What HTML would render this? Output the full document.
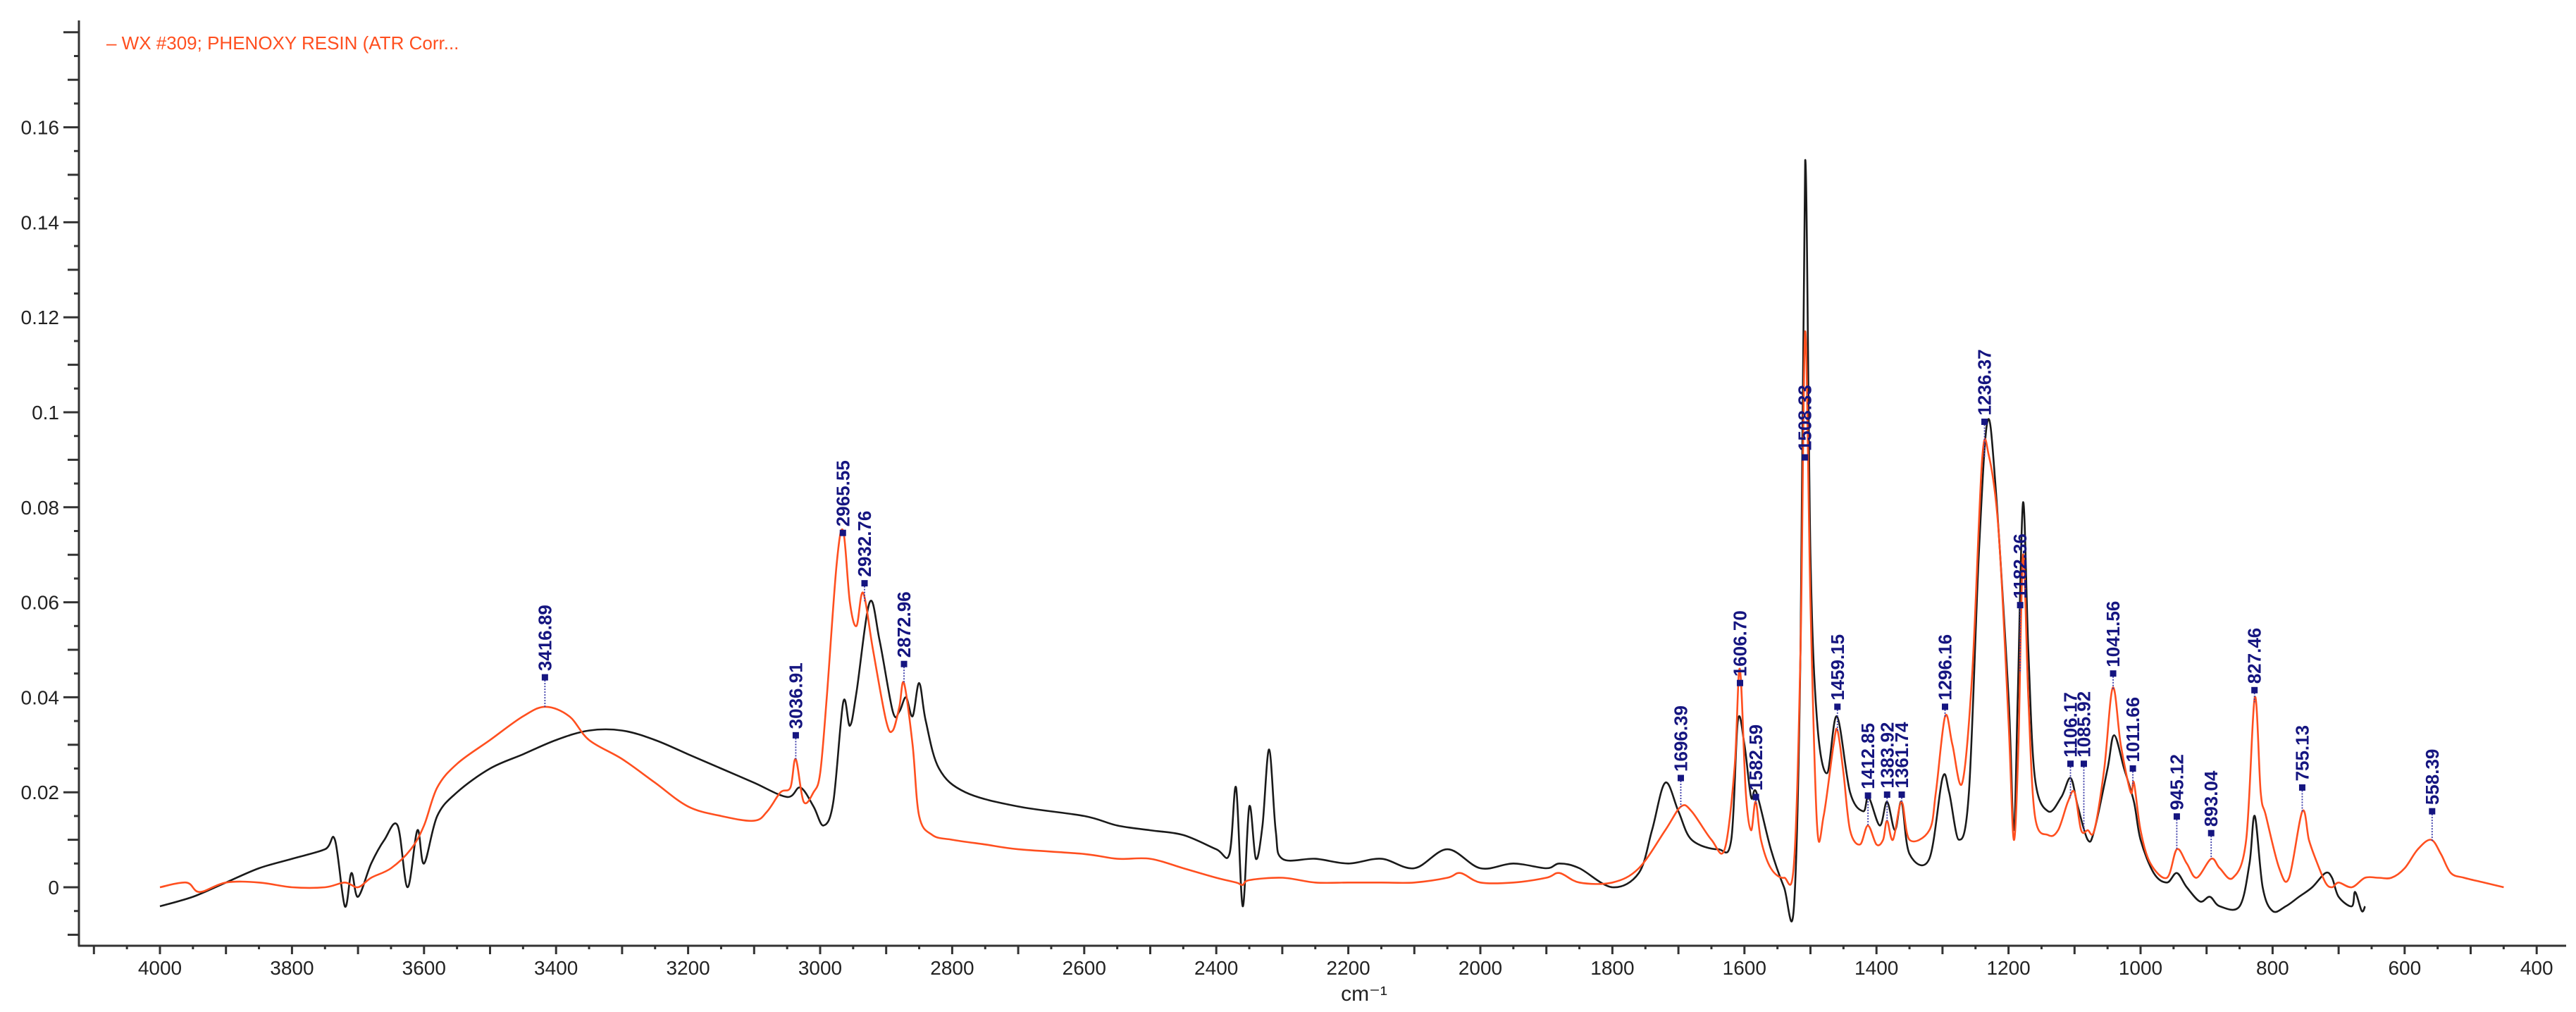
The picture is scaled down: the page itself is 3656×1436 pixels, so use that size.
<!DOCTYPE html>
<html><head><meta charset="utf-8"><style>
html,body{margin:0;padding:0;background:#fff;}
svg{display:block;}
text{font-family:"Liberation Sans",sans-serif;}
</style></head><body>
<svg id="chart" width="3656" height="1436" viewBox="0 0 3656 1436" xmlns="http://www.w3.org/2000/svg">
<g id="axes"></g>
<g id="series"></g>
<g id="labels"></g>
<text x="151" y="70" font-size="26" fill="#ff4f1f">– WX #309; PHENOXY RESIN (ATR Corr...</text>
<text x="1936" y="1420" font-size="30" fill="#222" text-anchor="middle">cm⁻¹</text>
</svg>
<script>
const blackWn = [4000,3950,3900,3850,3800,3750,3735,3720,3710,3700,3680,3660,3640,3625,3610,3600,3580,3550,3500,3450,3400,3350,3300,3250,3200,3150,3100,3050,3030,3010,2995,2980,2965,2955,2945,2925,2910,2890,2880,2870,2860,2850,2840,2820,2780,2700,2600,2550,2500,2450,2400,2380,2370,2360,2350,2340,2330,2320,2310,2300,2250,2200,2150,2100,2050,2000,1950,1900,1880,1850,1800,1760,1740,1720,1700,1680,1640,1620,1610,1600,1590,1582,1560,1540,1525,1515,1508,1500,1490,1475,1460,1440,1420,1412,1395,1384,1372,1362,1350,1320,1300,1290,1275,1260,1245,1232,1220,1200,1192,1186,1178,1170,1160,1140,1120,1106,1095,1080,1070,1050,1040,1025,1010,1000,980,960,945,930,910,895,880,850,835,827,815,800,780,760,740,720,710,700,680,675,665,660];
const blackVal = [-0.004,-0.002,0.001,0.004,0.006,0.008,0.010,-0.004,0.003,-0.002,0.005,0.010,0.013,0.0,0.012,0.005,0.015,0.020,0.025,0.028,0.031,0.033,0.033,0.031,0.028,0.025,0.022,0.019,0.021,0.017,0.013,0.018,0.039,0.034,0.041,0.060,0.052,0.037,0.037,0.040,0.036,0.043,0.035,0.025,0.020,0.017,0.015,0.013,0.012,0.011,0.008,0.007,0.021,-0.004,0.017,0.006,0.013,0.029,0.012,0.006,0.006,0.005,0.006,0.004,0.008,0.004,0.005,0.004,0.005,0.004,0.0,0.003,0.012,0.022,0.016,0.010,0.008,0.010,0.035,0.030,0.019,0.020,0.008,0.0,-0.004,0.05,0.153,0.07,0.035,0.024,0.036,0.020,0.016,0.019,0.013,0.018,0.012,0.018,0.007,0.006,0.023,0.020,0.010,0.020,0.070,0.098,0.085,0.040,0.012,0.040,0.081,0.050,0.023,0.016,0.019,0.023,0.017,0.010,0.012,0.025,0.032,0.025,0.018,0.010,0.003,0.001,0.003,0.0,-0.003,-0.002,-0.004,-0.004,0.005,0.015,0.0,-0.005,-0.004,-0.002,0.0,0.003,0.002,-0.002,-0.004,-0.001,-0.005,-0.004];
const orangeWn = [4000,3960,3940,3900,3850,3800,3750,3720,3700,3680,3650,3620,3600,3580,3550,3500,3450,3416,3380,3350,3300,3250,3200,3150,3100,3080,3060,3045,3037,3025,3010,3000,2990,2975,2965,2955,2945,2935,2920,2900,2890,2880,2873,2860,2850,2830,2800,2750,2700,2600,2550,2500,2450,2400,2370,2360,2350,2300,2250,2200,2150,2100,2050,2030,2000,1950,1900,1880,1850,1800,1760,1720,1696,1680,1650,1630,1615,1607,1598,1590,1583,1575,1560,1540,1525,1515,1508,1500,1490,1480,1465,1459,1450,1440,1425,1413,1400,1390,1384,1375,1362,1350,1320,1310,1296,1285,1270,1255,1240,1230,1215,1200,1192,1185,1178,1170,1160,1140,1125,1110,1100,1090,1080,1070,1055,1042,1030,1015,1010,1000,985,960,945,930,915,893,880,860,840,827,818,810,790,775,755,745,735,720,710,700,680,660,640,620,600,580,560,545,530,510,480,450];
const orangeVal = [0.0,0.001,-0.001,0.001,0.001,0.0,0.0,0.001,0.0,0.002,0.004,0.008,0.013,0.021,0.026,0.031,0.036,0.038,0.036,0.031,0.027,0.022,0.017,0.015,0.014,0.016,0.020,0.021,0.027,0.018,0.020,0.024,0.040,0.068,0.075,0.060,0.055,0.062,0.050,0.035,0.033,0.038,0.043,0.030,0.015,0.011,0.010,0.009,0.008,0.007,0.006,0.006,0.004,0.002,0.001,0.0005,0.0015,0.002,0.001,0.001,0.001,0.001,0.002,0.003,0.001,0.001,0.002,0.003,0.001,0.001,0.004,0.012,0.017,0.016,0.010,0.008,0.025,0.046,0.020,0.012,0.018,0.010,0.004,0.002,0.005,0.050,0.117,0.060,0.013,0.015,0.030,0.033,0.024,0.012,0.009,0.013,0.009,0.010,0.014,0.010,0.018,0.010,0.012,0.020,0.036,0.030,0.022,0.045,0.090,0.091,0.075,0.035,0.010,0.030,0.070,0.040,0.015,0.011,0.012,0.018,0.020,0.012,0.012,0.012,0.025,0.042,0.030,0.020,0.022,0.012,0.005,0.002,0.008,0.005,0.002,0.006,0.004,0.002,0.010,0.040,0.020,0.015,0.004,0.002,0.016,0.010,0.006,0.001,0.0,0.001,0.0,0.002,0.002,0.002,0.004,0.008,0.010,0.007,0.003,0.002,0.001,0.0];
const peakWn = [3416.89,3036.91,2965.55,2932.76,2872.96,1696.39,1606.70,1582.59,1508.33,1459.15,1412.85,1383.92,1361.74,1296.16,1236.37,1182.36,1106.17,1085.92,1041.56,1011.66,945.12,893.04,827.46,755.13,558.39];
const peakMarker = [0.0442,0.032,0.0746,0.064,0.047,0.023,0.043,0.019,0.0905,0.038,0.0193,0.0195,0.0195,0.038,0.098,0.0594,0.026,0.026,0.045,0.025,0.0149,0.0114,0.0415,0.021,0.016];
const xTickLabels = [4000,3800,3600,3400,3200,3000,2800,2600,2400,2200,2000,1800,1600,1400,1200,1000,800,600,400];
const yTickLabels = [0,0.02,0.04,0.06,0.08,0.1,0.12,0.14,0.16];

const NS='http://www.w3.org/2000/svg';
function X(w){return 227+(4000-w)*0.937;}
function Y(v){return 1259-v*6740;}
function mk(tag,attrs,parent){const e=document.createElementNS(NS,tag);for(const k in attrs)e.setAttribute(k,attrs[k]);parent.appendChild(e);return e;}
const axes=document.getElementById('axes');
let el=mk('line',{x1:112,y1:29,x2:112,y2:1343,stroke:'#333','stroke-width':3},axes);


el=mk('line',{x1:111,y1:1342,x2:3642,y2:1342,stroke:'#333','stroke-width':3},axes);


for(let i=-2;i<=36;i++){
  const v=i*0.005, y=Y(v);
  const len = (i%4===0)?22:(i%2===0?16:7);
  el=mk('line',{x1:112-len,y1:y,x2:112,y2:y,stroke:'#333','stroke-width':3},axes);
  
  
}
yTickLabels.forEach(v=>{
  const t=mk('text',{x:84,y:Y(v)+10,'font-size':28,'text-anchor':'end',fill:'#222'},axes);
  t.textContent=String(v);
  
  
});
for(let w=4100;w>=400;w-=50){
  const x=X(w), len=(w%100===0)?12:5;
  el=mk('line',{x1:x,y1:1342,x2:x,y2:1342+len,stroke:'#333','stroke-width':3},axes);
  
  
}
xTickLabels.forEach(w=>{
  const t=mk('text',{x:X(w),y:1383,'font-size':28,'text-anchor':'middle',fill:'#222'},axes);
  t.textContent=String(w);
  
  
});
const series=document.getElementById('series');
function path(wn,val){
  const p=wn.map((w,i)=>[X(w),Y(val[i])]);
  let d='M'+p[0][0].toFixed(1)+' '+p[0][1].toFixed(1);
  for(let i=0;i<p.length-1;i++){
    const p0=p[Math.max(0,i-1)],p1=p[i],p2=p[i+1],p3=p[Math.min(p.length-1,i+2)];
    const c1x=p1[0]+(p2[0]-p0[0])/6,c1y=p1[1]+(p2[1]-p0[1])/6;
    const c2x=p2[0]-(p3[0]-p1[0])/6,c2y=p2[1]-(p3[1]-p1[1])/6;
    d+=` C${c1x.toFixed(1)} ${c1y.toFixed(1)} ${c2x.toFixed(1)} ${c2y.toFixed(1)} ${p2[0].toFixed(1)} ${p2[1].toFixed(1)}`;
  }
  return d;
}
el=mk('path',{d:path(blackWn,blackVal),fill:'none',stroke:'#1a1a1a','stroke-width':2.6,'stroke-linejoin':'round'},series);


el=mk('path',{d:path(orangeWn,orangeVal),fill:'none',stroke:'#ff4f1f','stroke-width':2.6,'stroke-linejoin':'round'},series);


function interp(wn,val,w){for(let i=0;i<wn.length-1;i++){if(w<=wn[i]&&w>=wn[i+1]){const f=(wn[i]-w)/(wn[i]-wn[i+1]);return val[i]+f*(val[i+1]-val[i]);}}return 0;}
const labels=document.getElementById('labels');
peakWn.forEach((w,i)=>{
  const x=X(w), ym=Y(peakMarker[i]);
  const yc=Y(interp(orangeWn,orangeVal,w));
  el=mk('line',{x1:x,y1:ym,x2:x,y2:Math.max(yc,ym),stroke:'#3a3aa8','stroke-width':1.8,'stroke-dasharray':'2 2'},labels);
  
  
  el=mk('rect',{x:x-4.5,y:ym-4.5,width:9,height:9,fill:'#151580'},labels);
  
  
  const t=mk('text',{x:0,y:0,'font-size':26,'font-weight':'bold',fill:'#151580',transform:`translate(${x+9},${ym-9}) rotate(-90)`},labels);
  t.textContent=w.toFixed(2);
  
  
});
</script>
</body></html>
